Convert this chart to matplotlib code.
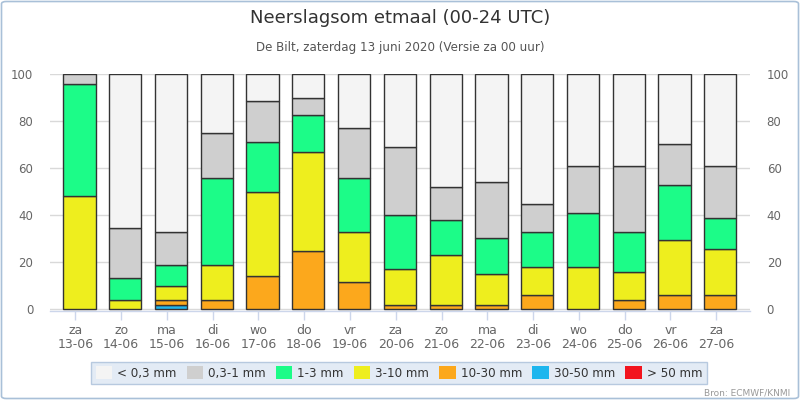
import matplotlib
matplotlib.use("Agg")
import matplotlib.pyplot as plt
from matplotlib.patches import Patch, FancyBboxPatch
import numpy as np

plt.rcParams['font.family'] = ['DejaVu Sans']

days = ["za", "zo", "ma", "di", "wo", "do", "vr", "za", "zo", "ma", "di", "wo", "do", "vr", "za"]
dates = ["13-06", "14-06", "15-06", "16-06", "17-06", "18-06", "19-06", "20-06",
         "21-06", "22-06", "23-06", "24-06", "25-06", "26-06", "27-06"]

classes = ["< 0,3 mm", "0,3-1 mm", "1-3 mm", "3-10 mm", "10-30 mm", "30-50 mm", "> 50 mm"]
colors = ["#f4f4f4", "#cfcfcf", "#1cfc88", "#eeee1e", "#fca81c", "#1eb6ee", "#f2141e"]

p_gt50 = [0, 0, 0, 0, 0, 0, 0, 0, 0, 0, 0, 0, 0, 0, 0]
p_30_50 = [0, 0, 2, 0, 0, 0, 0, 0, 0, 0, 0, 0, 0, 0, 0]
p_10_30 = [0, 0, 2, 4, 14, 25, 11.5, 2, 2, 2, 6, 0, 4, 6, 6]
p_3_10 = [48, 4, 6, 15, 36, 42, 21.5, 15, 21, 13, 12, 18, 12, 23.5, 19.5]
p_1_3 = [48, 9.5, 9, 37, 21, 15.5, 23, 23, 15, 15.5, 15, 23, 17, 23.5, 13.5]
p_03_1 = [4, 21, 14, 19, 17.5, 7.5, 21, 29, 14, 23.5, 12, 20, 28, 17.5, 22]
p_lt03 = [0, 65.5, 67, 25, 11.5, 10, 23, 31, 48, 46, 55, 39, 39, 29.5, 39]

# stacking order bottom -> top
stack = [(p_gt50, 6), (p_30_50, 5), (p_10_30, 4), (p_3_10, 3), (p_1_3, 2), (p_03_1, 1), (p_lt03, 0)]

W, H = 800, 400
fig = plt.figure(figsize=(W / 100, H / 100), dpi=100)
fig.patch.set_facecolor("white")

# outer border
border = FancyBboxPatch((1.5 / W, 1.5 / H), (W - 3) / W, (H - 3) / H,
                        boxstyle="round,pad=0,rounding_size=0.006",
                        transform=fig.transFigure, facecolor="none",
                        edgecolor="#a9c0d8", linewidth=1.2)
fig.patches.append(border)

ax = fig.add_axes([50 / W, (H - 311) / H, 700 / W, 237 / H])
x = np.arange(len(days))
bottom = np.zeros(len(days))
for vals, ci in stack:
    v = np.array(vals, dtype=float)
    mask = v > 0
    ax.bar(x[mask], v[mask], width=0.705, bottom=bottom[mask], color=colors[ci],
           edgecolor="#333333", linewidth=1.0, zorder=3)
    bottom += v

ax.set_xlim(-0.644, 14.648)
ax.set_ylim(-0.7, 100.1)
ax.set_yticks([0, 20, 40, 60, 80, 100])
ax.yaxis.grid(True, color="#d9d9d9", linewidth=1.0, zorder=0)
ax.set_axisbelow(True)
for s in ["top", "left", "right"]:
    ax.spines[s].set_visible(False)
ax.spines["bottom"].set_color("#ccd6eb")
ax.spines["bottom"].set_linewidth(1.0)

ax.set_xticks(x - 0.09)
ax.set_xticklabels([f"{d}\n{dt}" for d, dt in zip(days, dates)], linespacing=1.2)
ax.tick_params(axis="x", length=6.5, width=1.0, color="#ccd6eb", labelcolor="#666666",
               labelsize=9, pad=2.5)
ax.tick_params(axis="y", length=0, labelcolor="#666666", labelsize=8.5, pad=12,
               labelleft=True, labelright=True)

fig.text(0.5, 1 - 18 / H, "Neerslagsom etmaal (00-24 UTC)", ha="center", va="center",
         fontsize=13, color="#333333")
fig.text(0.5, 1 - 47 / H, "De Bilt, zaterdag 13 juni 2020 (Versie za 00 uur)", ha="center",
         va="center", fontsize=8.6, color="#555555")

handles = [Patch(facecolor=colors[i], edgecolor="none") for i in range(len(classes))]
leg = fig.legend(handles, classes, loc="center", ncol=7,
                 bbox_to_anchor=(399 / W, 1 - 373 / H), fontsize=8.6,
                 frameon=True, fancybox=False, facecolor="#dde7f3", edgecolor="#a9bfd9",
                 handlelength=1.35, handleheight=1.25, handletextpad=0.45, columnspacing=0.85,
                 borderpad=0.35, borderaxespad=0)
leg.get_frame().set_linewidth(1.0)
for t in leg.get_texts():
    t.set_color("#333333")

fig.text(790 / W, 1 - 393 / H, "Bron: ECMWF/KNMI", ha="right", va="center",
         fontsize=6.5, color="#999999")

fig.savefig("out.png", dpi=100)
